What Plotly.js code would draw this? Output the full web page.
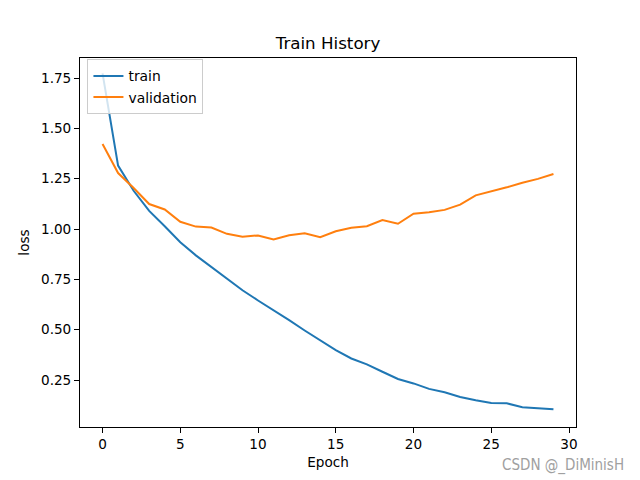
<!DOCTYPE html>
<html>
<head>
<meta charset="utf-8">
<script src="https://cdn.plot.ly/plotly-3.0.1.min.js"></script>
<style>html,body{margin:0;padding:0;background:#fff;}#chart{width:640px;height:480px;}</style>
</head>
<body>
<div id="chart"></div>
<script>
const epochs = Array.from({length: 30}, (_, i) => i);
const trainLoss = [1.773, 1.315, 1.19, 1.09, 1.014, 0.934, 0.869, 0.811, 0.755, 0.696,
  0.645, 0.597, 0.547, 0.496, 0.445, 0.398, 0.357, 0.328, 0.291, 0.255,
  0.233, 0.206, 0.189, 0.166, 0.149, 0.136, 0.134, 0.115, 0.110, 0.105];
const valLoss = [1.422, 1.278, 1.204, 1.124, 1.097, 1.036, 1.012, 1.007, 0.976, 0.962,
  0.968, 0.948, 0.969, 0.979, 0.959, 0.989, 1.006, 1.014, 1.044, 1.026,
  1.076, 1.083, 1.095, 1.121, 1.167, 1.186, 1.207, 1.230, 1.249, 1.273];
const seriesNames = ['train', 'validation'];
const xTicks = [0, 5, 10, 15, 20, 25, 30];
const yTicks = [0.25, 0.50, 0.75, 1.00, 1.25, 1.50, 1.75];

const font = 'DejaVu Sans, sans-serif';
const traces = [
  {x: epochs, y: trainLoss, name: seriesNames[0], mode: 'lines', line: {color: '#1f77b4', width: 2}},
  {x: epochs, y: valLoss, name: seriesNames[1], mode: 'lines', line: {color: '#ff7f0e', width: 2}}
];
const layout = {
  width: 640, height: 480,
  margin: {l: 80, r: 64, t: 57.6, b: 52.8, pad: 0},
  paper_bgcolor: '#fff', plot_bgcolor: '#fff',
  font: {family: font, size: 13.3, color: '#000'},
  title: {text: 'Train History', font: {family: font, size: 16.7, color: '#000'}, x: 0.5, xanchor: 'center', xref: 'paper', y: 1, yref: 'paper', yanchor: 'bottom', pad: {b: 9}},
  xaxis: {
    range: [-1.45, 30.45], tickvals: xTicks, ticktext: xTicks.map(String),
    showgrid: false, zeroline: false, showline: true, linecolor: '#000', linewidth: 1, mirror: true,
    ticks: 'outside', ticklen: 5, tickwidth: 1, tickcolor: '#000',
    tickfont: {family: font, size: 13.6, color: '#000'},
    title: {text: 'Epoch', font: {family: font, size: 13.6, color: '#000'}, standoff: 6}
  },
  yaxis: {
    range: [0.0166, 1.8494], tickvals: yTicks, ticktext: yTicks.map(v => v.toFixed(2)),
    showgrid: false, zeroline: false, showline: true, linecolor: '#000', linewidth: 1, mirror: true,
    ticks: 'outside', ticklen: 5, tickwidth: 1, tickcolor: '#000',
    tickfont: {family: font, size: 13.6, color: '#000'},
    title: {text: 'loss', font: {family: font, size: 13.6, color: '#000'}, standoff: 8}
  },
  legend: {
    x: 0.015, y: 0.996, xanchor: 'left', yanchor: 'top',
    bgcolor: 'rgba(255,255,255,0.8)', bordercolor: '#cccccc', borderwidth: 1,
    font: {family: font, size: 13.9, color: '#000'}, tracegroupgap: 0, itemwidth: 30
  },
  showlegend: true,
  annotations: [{
    text: 'CSDN @_DiMinisH', xref: 'paper', yref: 'paper', x: 1.1, y: -0.105,
    xanchor: 'right', yanchor: 'middle', showarrow: false,
    font: {family: 'Liberation Sans Narrow, DejaVu Sans Condensed, sans-serif', size: 15, color: '#a0a0a0'}
  }]
};
Plotly.newPlot('chart', traces, layout, {displayModeBar: false, staticPlot: true});
</script>
</body>
</html>
